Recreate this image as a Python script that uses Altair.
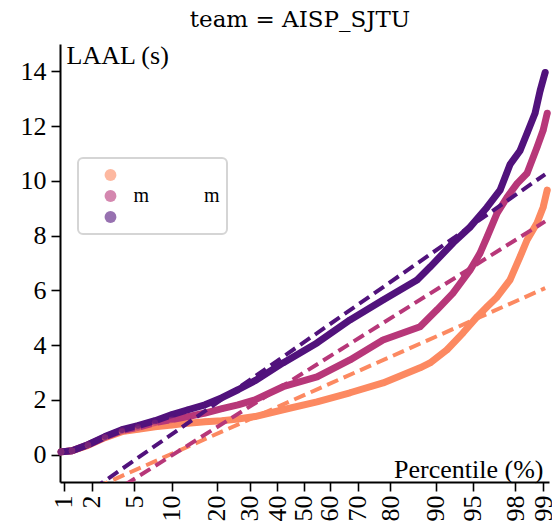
import altair as alt
import pandas as pd
from statistics import NormalDist

nd = NormalDist()

series = ["s1", "s2", "s3"]
colors = ["#fc8961", "#b73779", "#51127c"]
title_text = ["team = AISP_SJTU"]

# Percentile (%) and LAAL (s)
pct_s1 = [0.93, 1.23, 1.82, 2.70, 3.90, 5.40, 7.47, 10.08, 13.11, 16.95, 21.44, 26.24, 31.88, 42.11, 55.21,
          67.40, 77.99, 87.10, 89.03, 91.82, 93.93, 95.39, 96.26, 96.99, 97.75, 98.22, 98.50, 98.83, 99.00, 99.10]
laal_s1 = [0.10, 0.14, 0.34, 0.62, 0.84, 0.93, 1.02, 1.08, 1.15, 1.20, 1.24, 1.30, 1.39, 1.64, 1.93,
           2.26, 2.62, 3.17, 3.35, 3.83, 4.45, 5.03, 5.40, 5.76, 6.38, 7.22, 7.84, 8.46, 9.04, 9.66]

pct_s2 = [0.93, 1.23, 1.82, 2.70, 3.90, 5.40, 7.47, 10.08, 13.11, 16.95, 21.44, 26.24, 31.88, 42.11, 55.21,
          67.40, 77.99, 87.10, 90.25, 92.66, 94.70, 95.67, 96.26, 96.99, 97.59, 98.09, 98.50, 98.83, 99.00, 99.10]
laal_s2 = [0.10, 0.14, 0.36, 0.64, 0.88, 1.00, 1.17, 1.28, 1.39, 1.52, 1.68, 1.82, 2.00, 2.48, 2.84,
           3.46, 4.19, 4.67, 5.29, 5.90, 6.74, 7.36, 7.95, 8.82, 9.40, 9.90, 10.28, 11.23, 11.85, 12.47]

pct_s3 = [0.93, 1.23, 1.82, 2.70, 3.90, 5.40, 7.47, 10.08, 13.11, 16.95, 21.44, 26.24, 31.88, 42.11, 55.21,
          67.40, 77.99, 86.48, 89.03, 92.66, 94.70, 96.26, 97.18, 97.75, 98.22, 98.50, 98.77, 98.92, 99.05]
laal_s3 = [0.10, 0.14, 0.36, 0.66, 0.91, 1.06, 1.24, 1.46, 1.64, 1.82, 2.08, 2.37, 2.70, 3.35, 4.08,
           4.92, 5.65, 6.38, 6.85, 7.73, 8.31, 9.04, 9.66, 10.60, 11.10, 11.74, 12.47, 13.30, 13.96]

# Dashed fit lines: end points (percentile, LAAL)
fit_pct = [1.0, 99.05]
fit_s1 = [-1.72, 6.08]
fit_s2 = [-2.50, 8.52]
fit_s3 = [-2.00, 10.24]

x_tick_pct = [1, 2, 5, 10, 20, 30, 40, 50, 60, 70, 80, 90, 95, 98, 99]
y_ticks = [0, 2, 4, 6, 8, 10, 12, 14]

legend_labels = ["", "m" + "\u00a0" * 11 + "m", ""]

rows = []
for name, pcts, vals in zip(series, [pct_s1, pct_s2, pct_s3], [laal_s1, laal_s2, laal_s3]):
    for p, v in zip(pcts, vals):
        rows.append({"series": name, "z": nd.inv_cdf(p / 100), "laal": v})
pts = pd.DataFrame(rows)

frows = []
for name, vals in zip(series, [fit_s1, fit_s2, fit_s3]):
    for p, v in zip(fit_pct, vals):
        frows.append({"series": name, "z": nd.inv_cdf(p / 100), "laal": v})
fits = pd.DataFrame(frows)

FONT = "Liberation Serif"
color_scale = alt.Scale(domain=series, range=colors)

label_expr = " : ".join(
    [f"datum.label == '{s}' ? '{l}'" for s, l in zip(series, legend_labels)]
) + " : ''"

x_enc = alt.X(
    "z:Q",
    scale=alt.Scale(domain=[-2.364, 2.383], nice=False, zero=False),
    axis=alt.Axis(
        values=[nd.inv_cdf(p / 100) for p in x_tick_pct],
        labelExpr="format(cumulativeNormal(datum.value) * 100, '.0f')",
        labelAngle=270,
        labelAlign="right",
        labelBaseline="middle",
        labelPadding=4,
        title="Percentile (%)",
        titleAngle=0,
        titleAlign="right",
        titleBaseline="alphabetic",
        titleX=483,
        titleY=-5,
    ),
)
y_enc = alt.Y(
    "laal:Q",
    scale=alt.Scale(domain=[-1, 15], nice=False, zero=False),
    axis=alt.Axis(
        values=y_ticks,
        labelPadding=5,
        title="LAAL (s)",
        titleAngle=0,
        titleAlign="left",
        titleBaseline="alphabetic",
        titleX=6,
        titleY=19,
    ),
)

lines = alt.Chart(pts).mark_line(strokeWidth=7, strokeCap="round", strokeJoin="round").encode(
    x=x_enc, y=y_enc, color=alt.Color("series:N", scale=color_scale, legend=None)
)

dots = alt.Chart(pts).mark_circle(size=40, opacity=0.6).encode(
    x=x_enc, y=y_enc,
    color=alt.Color(
        "series:N", scale=color_scale,
        legend=alt.Legend(
            orient="none", legendX=18, legendY=114, title=None,
            symbolType="circle", symbolSize=140, symbolOpacity=0.6, symbolStrokeWidth=0,
            padding=7, rowPadding=1, symbolOffset=15.5, labelOffset=13,
            labelFont=FONT, labelFontSize=20, labelColor="black",
            labelExpr=label_expr,
            fillColor="white", strokeColor="#d5d5d5", cornerRadius=5,
        ),
    ),
)

dashed = alt.Chart(fits).mark_line(strokeDash=[12, 6], strokeWidth=4, clip=True).encode(
    x=x_enc, y=y_enc, color=alt.Color("series:N", scale=color_scale, legend=None)
)

title_layer = alt.Chart(pd.DataFrame({"t": title_text})).mark_text(
    font="DejaVu Serif", fontSize=23, align="center",
    baseline="alphabetic", color="black", fontWeight="normal",
).encode(text="t:N", x=alt.value(240), y=alt.value(-17))

chart = (
    alt.layer(lines, dots, dashed, title_layer)
    .resolve_legend(color="independent")
    .properties(
        width=489,
        height=438,
        padding={"left": 60, "top": 44, "right": 3, "bottom": 49},
        autosize=alt.AutoSizeParams(type="none"),
    )
    .configure_view(stroke=None)
    .configure_axis(
        grid=False,
        domainColor="black", domainWidth=2,
        tickColor="black", tickWidth=1.6, tickSize=9,
        labelFont=FONT, labelFontSize=26, labelColor="black",
        titleFont=FONT, titleFontSize=26, titleFontWeight="normal", titleColor="black",
    )
    .configure_legend(strokeWidth=2)
)

chart.save("out.html", embed_options={"renderer": "svg", "actions": False})
